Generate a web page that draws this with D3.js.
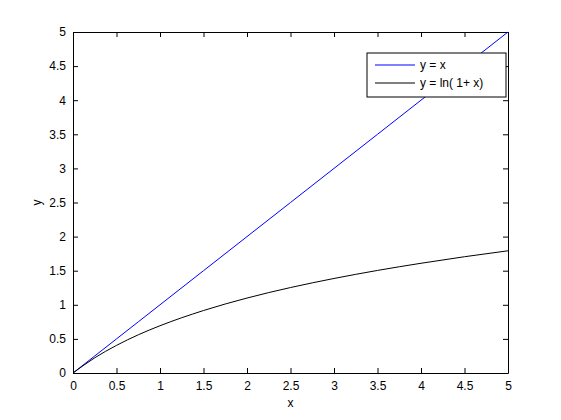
<!DOCTYPE html>
<html>
<head>
<meta charset="utf-8">
<script src="https://cdn.jsdelivr.net/npm/d3@7"></script>
<style>
body{margin:0;background:#fff;}
text{font-family:Arial,"Liberation Sans",sans-serif;font-size:12px;fill:#000;}
</style>
</head>
<body>
<script>
const svg_width = 561, svg_height = 420;
// values
var xValues = [0,0.25,0.5,0.75,1,1.5,2,2.5,3,3.5,4,4.5,5];
var linearValues = [0,0.25,0.5,0.75,1,1.5,2,2.5,3,3.5,4,4.5,5];
var logValues = [0,0.223,0.405,0.56,0.693,0.916,1.099,1.253,1.386,1.504,1.609,1.705,1.792];
var xTicks = [0,0.5,1,1.5,2,2.5,3,3.5,4,4.5,5];
var yTicks = [0,0.5,1,1.5,2,2.5,3,3.5,4,4.5,5];
var legendLabels = ["y = x","y = ln( 1+ x)"];
var seriesColors = ["#0000ff","#000000"];

const plot_left = 73, plot_right = 508, plot_top = 32, plot_bottom = 373;

var svgContainer = d3.select("body").append("svg")
	.attr("width",svg_width)
	.attr("height",svg_height);

var xScale = d3.scaleLinear().domain([0,5]).range([plot_left,plot_right]);
var yScale = d3.scaleLinear().domain([0,5]).range([plot_bottom,plot_top]);

// axes with inward ticks
var fmt = function(d){return String(d)};
svgContainer.append("g").attr("transform","translate(0,"+plot_bottom+")")
	.call(d3.axisBottom(xScale).tickValues(xTicks).tickFormat(fmt).tickSizeInner(-5).tickSizeOuter(0).tickPadding(8));
svgContainer.append("g").attr("transform","translate(0,"+plot_top+")")
	.call(d3.axisTop(xScale).tickValues(xTicks).tickFormat("").tickSizeInner(-5).tickSizeOuter(0));
svgContainer.append("g").attr("transform","translate("+plot_left+",0)")
	.call(d3.axisLeft(yScale).tickValues(yTicks).tickFormat(fmt).tickSizeInner(-5).tickSizeOuter(0).tickPadding(7));
svgContainer.append("g").attr("transform","translate("+plot_right+",0)")
	.call(d3.axisRight(yScale).tickValues(yTicks).tickFormat("").tickSizeInner(-5).tickSizeOuter(0));
svgContainer.selectAll(".domain").attr("stroke","#000");
svgContainer.selectAll(".tick line").attr("stroke","#000");
svgContainer.selectAll(".tick text").attr("font-size","12px").attr("font-family","Arial,'Liberation Sans',sans-serif");

var line = d3.line()
	.x(function(d){return xScale(d.x)})
	.y(function(d){return yScale(d.y)})
	.curve(d3.curveMonotoneX);

var series = [linearValues,logValues];
for(var s = 0; s<series.length; s++){
	var pts = xValues.map(function(x,i){return {x:x,y:series[s][i]}});
	svgContainer.append("path")
		.attr("d",line(pts))
		.attr("fill","none")
		.attr("stroke",seriesColors[s])
		.attr("stroke-width",1);
}

// axis labels
svgContainer.append("text").attr("x",(plot_left+plot_right)/2).attr("y",407)
	.attr("text-anchor","middle").text("x");
svgContainer.append("text")
	.attr("transform","translate(41,"+((plot_top+plot_bottom)/2)+") rotate(-90)")
	.attr("text-anchor","middle").text("y");

// legend
var legend = svgContainer.append("g");
legend.append("rect").attr("x",367).attr("y",53).attr("width",139).attr("height",44)
	.attr("fill","#fff").attr("stroke","#000").attr("stroke-width",1);
legendLabels.forEach(function(label,i){
	var ly = 65 + i*18;
	legend.append("line").attr("x1",375).attr("x2",415).attr("y1",ly).attr("y2",ly)
		.attr("stroke",seriesColors[i]).attr("stroke-width",1);
	legend.append("text").attr("x",420).attr("y",ly+4).text(label);
});
</script>
</body>
</html>
